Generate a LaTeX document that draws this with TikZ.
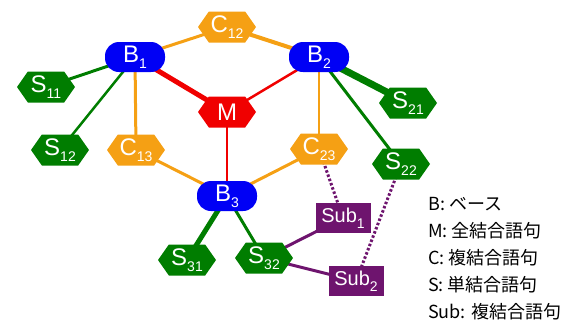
\documentclass[tikz,border=0pt]{standalone}
\usepackage{fontspec}
\setmainfont{Liberation Sans}
\newfontfamily\jpfont{Noto Sans CJK JP}
\usetikzlibrary{shapes.symbols}
\definecolor{cblue}{RGB}{0,0,245}
\definecolor{cred}{RGB}{240,0,0}
\definecolor{corange}{RGB}{245,160,20}
\definecolor{cgreen}{RGB}{0,125,0}
\definecolor{cpurple}{RGB}{110,20,110}
\newcommand{\sbs}[1]{\raisebox{-6pt}{\fontsize{14}{14}\selectfont #1}}
\pgfdeclarelayer{bg}
\pgfsetlayers{bg,main}
\tikzset{
  lbl/.style={text=white, font=\fontsize{24}{24}\selectfont, inner sep=0pt},
  basebox/.style={lbl, fill=cblue, rectangle, rounded corners=14pt, minimum width=60pt, minimum height=30pt},
  hexbox/.style={lbl, signal, signal to=east and west, signal pointer angle=110, minimum width=58pt, minimum height=31pt},
  mbox/.style={hexbox, fill=cred},
  cbox/.style={hexbox, fill=corange},
  sbox/.style={hexbox, fill=cgreen},
  subbox/.style={lbl, rectangle, fill=cpurple, minimum width=55pt, minimum height=30pt, font=\fontsize{20}{20}\selectfont},
  oe/.style={draw=corange, line width=#1},
  re/.style={draw=cred, line width=#1},
  ge/.style={draw=cgreen, line width=#1},
  pe/.style={draw=cpurple, line width=3pt},
  pd/.style={draw=cpurple, line width=3pt, dash pattern=on 2.5pt off 2pt},
  leg/.style={anchor=west, inner sep=0pt, font=\jpfont\fontsize{18}{18}\selectfont}
}
\begin{document}
\begin{tikzpicture}[x=1pt,y=-1pt]
\useasboundingbox (0,0) rectangle (587,322);
% nodes
\node[basebox] (B1) at (135,57) {B\sbs{1}};
\node[basebox] (B2) at (319,57) {B\sbs{2}};
\node[basebox] (B3) at (227,196) {B\sbs{3}};
\node[mbox] (M) at (227,112) {M};
\node[cbox] (C12) at (227,27) {C\sbs{12}};
\node[cbox] (C13) at (136,150) {C\sbs{13}};
\node[cbox] (C23) at (319,149) {C\sbs{23}};
\node[sbox] (S11) at (46,87) {S\sbs{11}};
\node[sbox] (S12) at (60,150) {S\sbs{12}};
\node[sbox] (S21) at (408,103) {S\sbs{21}};
\node[sbox] (S22) at (401,164) {S\sbs{22}};
\node[sbox] (S31) at (187,260) {S\sbs{31}};
\node[sbox] (S32) at (264,258) {S\sbs{32}};
\node[subbox] (Sub1) at (343,218) {Sub\sbs{1}};
\node[subbox] (Sub2) at (356,281) {Sub\sbs{2}};
% edges
\begin{pgfonlayer}{bg}
\draw[oe=3pt] (B1.center) -- (C12.center);
\draw[oe=4pt] (C12.center) -- (B2.center);
\draw[re=5pt] (B1.center) -- (M.center);
\draw[re=2.5pt] (M.center) -- (B2.center);
\draw[re=2pt] (M.center) -- (B3.center);
\draw[ge=3pt] (B1.center) -- (S11.center);
\draw[ge=2.5pt] (B1.center) -- (S12.center);
\draw[oe=3pt] (B1.center) -- (C13.center);
\draw[oe=3pt] (C13.center) -- (B3.center);
\draw[oe=3pt] (C23.center) -- (B3.center);
\draw[oe=2pt] (B2.center) -- (C23.center);
\draw[ge=7pt] (B2.center) -- (S21.center);
\draw[ge=3pt] (B2.center) -- (S22.center);
\draw[ge=5pt] (B3.center) -- (S31.center);
\draw[ge=3pt] (B3.center) -- (S32.center);
\draw[pe] (S32.center) -- (Sub1.center);
\draw[pe] (S32.center) -- (Sub2.center);
\draw[pd] (C23.center) -- (Sub1.center);
\draw[pd] (S22.center) -- (Sub2.center);
\end{pgfonlayer}
% legend
\node[leg] (L1) at (428,204) {B: ベース};
\node[leg] (L2) at (428,231) {M: 全結合語句};
\node[leg] (L3) at (428,258) {C: 複結合語句};
\node[leg] (L4) at (428,285) {S: 単結合語句};
\node[leg] (L5) at (428,312) {Sub: 複結合語句};
\end{tikzpicture}
\end{document}
